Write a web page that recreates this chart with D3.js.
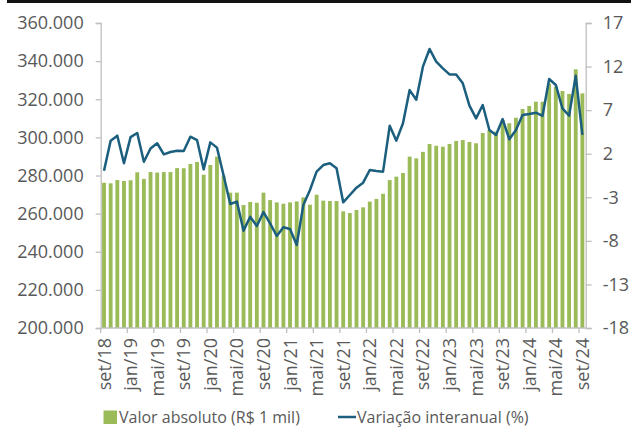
<!DOCTYPE html>
<html>
<head>
<meta charset="utf-8">
<script src="https://cdn.jsdelivr.net/npm/d3@7"></script>
<style>
  body { margin: 0; background: #fff; }
  svg text { font-family: "Open Sans", sans-serif; fill: #595959; }
</style>
</head>
<body>
<div id="chart"></div>
<script>
// 月份标签 set/18 .. set/24
var meses = ["jan","fev","mar","abr","mai","jun","jul","ago","set","out","nov","dez"];
var categorias = [];
for (var k = 0; k < 73; k++) {
  var m = (8 + k) % 12;
  var a = 18 + Math.floor((8 + k) / 12);
  categorias.push(meses[m] + "/" + a);
}
// Valor absoluto (R$ 1 mil)
var valorAbsoluto = [
  276200, 275900, 277600, 277100, 277500, 281700, 278200, 281800, 281500, 281800,
  281800, 283900, 283800, 286000, 287100, 280400, 285500, 289900, 280000, 271000,
  271000, 264500, 266100, 265700, 271000, 267100, 265900, 265200, 265900, 266400,
  268500, 264700, 269900, 266800, 266600, 266600, 261200, 260300, 261900, 263300,
  266300, 267700, 270400, 277600, 279400, 281300, 289900, 289000, 292400, 296500,
  295600, 295100, 296500, 298100, 298600, 297600, 296900, 302300, 303900, 303000,
  309100, 307400, 310300, 314900, 316500, 318700, 318700, 328300, 326600, 324300,
  322800, 335700, 323100
];
// Variação interanual (%)
var variacao = [
  0.05, 3.5, 4.07, 0.9, 3.9, 4.38, 1.08, 2.6, 3.2, 1.93,
  2.2, 2.35, 2.3, 3.95, 3.57, 0.2, 3.3, 2.7, -0.5, -3.77,
  -3.5, -6.83, -5.23, -6.3, -4.7, -6.0, -7.44, -6.44, -6.64, -8.48,
  -3.89, -2.16, -0.06, 0.7, 0.9, 0.33, -3.58, -2.74, -1.9, -1.32,
  0.13, 0.02, -0.06, 5.2, 3.5, 5.5, 9.3, 8.2, 11.99, 14.02,
  12.56, 11.8, 11.1, 11.1, 10.08, 7.51, 6.06, 7.59, 4.72, 4.15,
  5.98, 3.65, 4.72, 6.44, 6.56, 6.71, 6.33, 10.57, 9.89, 7.2,
  6.36, 10.95, 4.15
];
var ticksEsq = [200000, 220000, 240000, 260000, 280000, 300000, 320000, 340000, 360000];
var ticksDir = [-18, -13, -8, -3, 2, 7, 12, 17];
var legenda = ["Valor absoluto (R$ 1 mil)", "Variação interanual (%)"];

var width = 631, height = 436;
var plot = { left: 100.7, right: 585.7, top: 23, bottom: 328 };

var svg = d3.select("#chart").append("svg")
  .attr("width", width).attr("height", height);

// 顶部黑条
svg.append("rect").attr("x", 7).attr("y", 0).attr("width", width - 7).attr("height", 3).attr("fill", "#111");

var x = d3.scaleBand()
  .domain(d3.range(categorias.length))
  .range([plot.left, plot.right])
  .paddingInner(0.42)
  .paddingOuter(0.21);
var step = x.step();

var yL = d3.scaleLinear().domain([200000, 360000]).range([plot.bottom, plot.top]);
var yR = d3.scaleLinear().domain([-18, 17]).range([plot.bottom, plot.top]);

var loc = d3.formatLocale({ decimal: ",", thousands: ".", grouping: [3], currency: ["R$", ""] });
var fmt = loc.format(",d");

// 柱子
svg.append("g").selectAll("rect")
  .data(valorAbsoluto)
  .join("rect")
  .attr("x", (d, i) => x(i))
  .attr("y", d => yL(d))
  .attr("width", x.bandwidth())
  .attr("height", d => plot.bottom - yL(d))
  .attr("fill", "#9bbb59");

// 折线
var line = d3.line()
  .x((d, i) => x(i) + x.bandwidth() / 2)
  .y(d => yR(d));
svg.append("path")
  .datum(variacao)
  .attr("d", line)
  .attr("fill", "none")
  .attr("stroke", "#1b5e7e")
  .attr("stroke-width", 2.5)
  .attr("stroke-linejoin", "round");

var axisColor = "#bfbfbf";

// 左轴
var gL = svg.append("g").attr("transform", `translate(${plot.left},0)`)
  .call(d3.axisLeft(yL).tickValues(ticksEsq).tickFormat(fmt).tickSize(5).tickPadding(12));
// 右轴
var gR = svg.append("g").attr("transform", `translate(${plot.right},0)`)
  .call(d3.axisRight(yR).tickValues(ticksDir).tickFormat(d => String(d)).tickSize(6).tickPadding(11));
[gL, gR].forEach(g => {
  g.select(".domain").attr("stroke", axisColor).attr("stroke-width", 1.3);
  g.selectAll(".tick line").attr("stroke", axisColor).attr("stroke-width", 1.3);
  g.selectAll(".tick text").attr("font-size", "18px").style("font-family", "'Open Sans', sans-serif").attr("fill", "#595959");
});

// 底轴
var gB = svg.append("g").attr("transform", `translate(0,${plot.bottom})`);
gB.append("line").attr("x1", plot.left).attr("x2", plot.right)
  .attr("stroke", axisColor).attr("stroke-width", 1.3);
var idx = d3.range(0, categorias.length, 4);
gB.selectAll(".tk").data(idx).join("line")
  .attr("x1", i => plot.left + i * step).attr("x2", i => plot.left + i * step)
  .attr("y1", 0).attr("y2", 5)
  .attr("stroke", axisColor).attr("stroke-width", 1.3);
gB.selectAll(".lb").data(idx).join("text")
  .attr("transform", i => `translate(${x(i) + x.bandwidth() / 2 + 6.5},10) rotate(-90)`)
  .attr("text-anchor", "end")
  .attr("font-size", "18px")
  .text(i => categorias[i]);

// 图例
var lg = svg.append("g").attr("transform", "translate(0,417)");
lg.append("rect").attr("x", 103.5).attr("y", -6.5).attr("width", 13.5).attr("height", 13.5).attr("fill", "#9bbb59");
lg.append("text").attr("x", 119).attr("y", 5.5).attr("font-size", "16px").text(legenda[0]);
lg.append("line").attr("x1", 338).attr("x2", 356).attr("y1", 0).attr("y2", 0)
  .attr("stroke", "#1b5e7e").attr("stroke-width", 2.5);
lg.append("text").attr("x", 357).attr("y", 5.5).attr("font-size", "16px").text(legenda[1]);
</script>
</body>
</html>
